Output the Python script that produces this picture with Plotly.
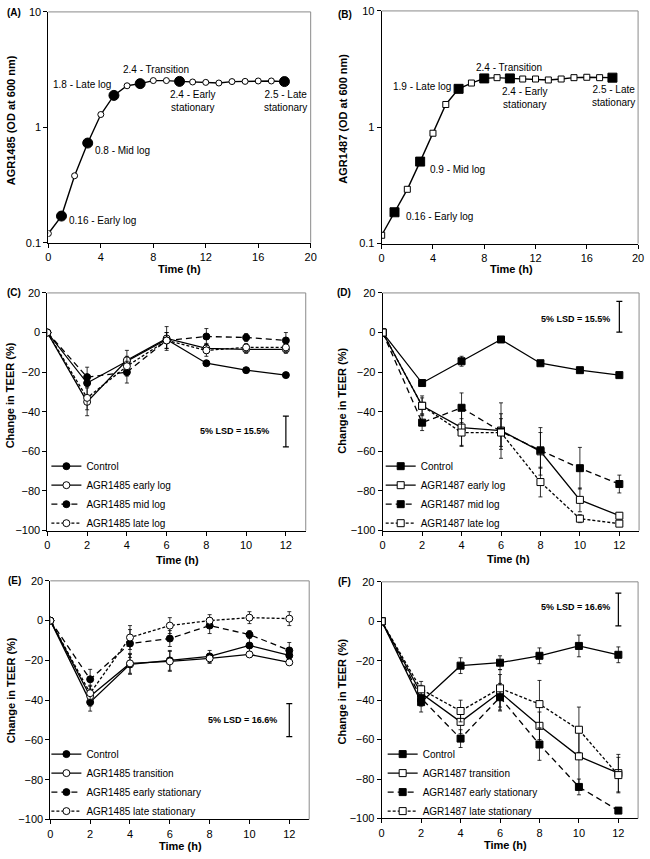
import plotly.graph_objects as go
from plotly.subplots import make_subplots

W, H = 650, 859
FONT = "Liberation Sans, Arial, sans-serif"

# ---------------- Data ----------------
growth_time = list(range(0, 19))
agr1485_od = [0.12, 0.17, 0.38, 0.73, 1.29, 1.89, 2.29, 2.39, 2.54, 2.54, 2.50, 2.47, 2.45, 2.42, 2.49, 2.50, 2.52, 2.52, 2.49]
agr1485_sampled = [1, 3, 5, 7, 10, 18]
agr1487_od = [0.118, 0.186, 0.293, 0.507, 0.889, 1.57, 2.14, 2.40, 2.63, 2.67, 2.63, 2.60, 2.60, 2.55, 2.60, 2.67, 2.69, 2.67, 2.67]
agr1487_sampled = [1, 3, 6, 8, 10, 18]

teer_time = [0, 2, 4, 6, 8, 10, 12]

C_control = [0, -25.5, -14.5, -3.5, -15.5, -19, -21.5]
C_control_err = [0, 1, 2, 1, 1, 1, 1]
C_early = [0, -35, -14, -3, -8, -8.5, -8.5]
C_early_err = [0, 7, 5, 6, 2.5, 2, 2]
C_mid = [0, -22.5, -20, -4, -2, -2.5, -4]
C_mid_err = [0, 5, 5.5, 4, 4, 2, 4]
C_late = [0, -33, -17, -4, -9, -7.5, -7.5]
C_late_err = [0, 6, 5, 4, 3, 2, 2]

D_control = [0, -25.5, -14.5, -3.5, -15.5, -19, -21.5]
D_control_err = [0, 1, 2.5, 1, 1, 1, 1]
D_early = [0, -37, -48, -49.5, -60, -84.5, -92.5]
D_early_err = [0, 5, 9, 14, 12, 6, 1.5]
D_mid = [0, -45.5, -38, -50, -59.5, -68.5, -76.5]
D_mid_err = [0, 4, 7.5, 9, 9, 10.5, 4.5]
D_late = [0, -37, -50.5, -50.5, -75.5, -94, -96.5]
D_late_err = [0, 4, 7, 7, 7.5, 2, 1]

E_control = [0, -41, -22, -20, -18, -12.5, -17.5]
E_control_err = [0, 4.5, 5, 5, 3, 5, 4]
E_trans = [0, -38, -21.5, -20.5, -19, -17, -21]
E_trans_err = [0, 5, 5, 5, 2.5, 1.5, 1.5]
E_early = [0, -29.5, -11.5, -9, -2.5, -7, -15]
E_early_err = [0, 5, 7, 4, 4, 2, 4]
E_late = [0, -36.5, -8.5, -2.5, 0, 1.5, 1]
E_late_err = [0, 4, 6, 4, 3, 3, 3.5]

F_control = [0, -41, -22.5, -21, -17.5, -12.5, -17]
F_control_err = [0, 5, 4, 3.5, 4, 5.5, 4]
F_trans = [0, -36.5, -51, -36, -53, -68.5, -77]
F_trans_err = [0, 4, 6, 9, 7, 14, 9.5]
F_early = [0, -39, -59.5, -38.5, -62.5, -84, -96]
F_early_err = [0, 4, 4.5, 7, 8, 4, 1]
F_late = [0, -34.5, -45.5, -34, -42, -55, -78]
F_late_err = [0, 4, 5.5, 9.5, 12, 11.5, 9]

lsd_C = 15.5
lsd_D = 15.5
lsd_E = 16.6
lsd_F = 16.6
lsd_x = 12
lsd_center = {"C": -50, "D": 8, "E": -50, "F": 6}

labels_log_1485 = ["Control", "AGR1485 early log", "AGR1485 mid log", "AGR1485 late log"]
labels_log_1487 = ["Control", "AGR1487 early log", "AGR1487 mid log", "AGR1487 late log"]
labels_stat_1485 = ["Control", "AGR1485 transition", "AGR1485 early stationary", "AGR1485 late stationary"]
labels_stat_1487 = ["Control", "AGR1487 transition", "AGR1487 early stationary", "AGR1487 late stationary"]

# ---------------- Figure ----------------
fig = make_subplots(rows=3, cols=2)

def px_x(p):
    return p / W

def px_y(p):
    return 1 - p / H

domains = {
    1: ((46, 312), (6, 240)),
    2: ((384, 644), (5, 241)),
    3: ((45, 307), (291, 532)),
    4: ((385, 645), (291, 532)),
    5: ((48, 310.5), (583, 825)),
    6: ((384, 644), (584, 824)),
}

def axname(i, a):
    return f"{a}axis" if i == 1 else f"{a}axis{i}"

tickfont = dict(family=FONT, size=11, color="black")
for i, ((x0, x1), (y0, y1)) in domains.items():
    fig.layout[axname(i, "x")].update(domain=[px_x(x0), px_x(x1)])
    fig.layout[axname(i, "y")].update(domain=[px_y(y1), px_y(y0)])
    for a in ("x", "y"):
        fig.layout[axname(i, a)].update(
            showline=True, linecolor="black", linewidth=1, showgrid=False, zeroline=False,
            ticks="outside", ticklen=4, tickcolor="black", tickwidth=1, tickfont=tickfont,
        )
    xr = f"x{'' if i == 1 else i} domain"
    yr = f"y{'' if i == 1 else i} domain"
    fig.add_shape(type="line", xref=xr, yref=yr, x0=0, x1=1, y0=1, y1=1, line=dict(color="#8a8a8a", width=1))
    fig.add_shape(type="line", xref=xr, yref=yr, x0=1, x1=1, y0=0, y1=1, line=dict(color="#8a8a8a", width=1))

for i in (1, 2):
    fig.layout[axname(i, "x")].update(range=[0, 20], tickvals=[0, 4, 8, 12, 16, 20])
    fig.layout[axname(i, "y")].update(type="log", range=[-1, 1], tickvals=[0.1, 1, 10], ticktext=["0.1", "1", "10"])
for i in (3, 4, 5, 6):
    fig.layout[axname(i, "x")].update(range=[0, 13], tickvals=[0, 2, 4, 6, 8, 10, 12])
    fig.layout[axname(i, "y")].update(range=[-100, 20], tickvals=[20, 0, -20, -40, -60, -80, -100])

def growth_trace(od, sampled, symbol, big, small):
    colors = ["black" if t in sampled else "white" for t in growth_time]
    sizes = [big if t in sampled else small for t in growth_time]
    return go.Scatter(
        x=growth_time, y=od, mode="lines+markers", showlegend=False,
        line=dict(color="black", width=1.4),
        marker=dict(symbol=symbol, color=colors, size=sizes, opacity=1, line=dict(color="black", width=1)),
    )

fig.add_trace(growth_trace(agr1485_od, agr1485_sampled, "circle", 10, 6), row=1, col=1)
fig.add_trace(growth_trace(agr1487_od, agr1487_sampled, "square", 9, 6), row=1, col=2)

styles = [
    ("solid", "black"),
    ("solid", "white"),
    ("6px,4px", "black"),
    ("3px,2px", "white"),
]

panels = [
    (2, 1, "circle", [(C_control, C_control_err), (C_early, C_early_err), (C_mid, C_mid_err), (C_late, C_late_err)], labels_log_1485, "legend"),
    (2, 2, "square", [(D_control, D_control_err), (D_early, D_early_err), (D_mid, D_mid_err), (D_late, D_late_err)], labels_log_1487, "legend2"),
    (3, 1, "circle", [(E_control, E_control_err), (E_trans, E_trans_err), (E_early, E_early_err), (E_late, E_late_err)], labels_stat_1485, "legend3"),
    (3, 2, "square", [(F_control, F_control_err), (F_trans, F_trans_err), (F_early, F_early_err), (F_late, F_late_err)], labels_stat_1487, "legend4"),
]

for row, col, sym, series, names, leg in panels:
    for (vals, errs), name, (dash, fill) in zip(series, names, styles):
        fig.add_trace(go.Scatter(
            x=teer_time, y=vals, name=name, mode="lines+markers", legend=leg,
            line=dict(color="black", width=1.3, dash=dash),
            marker=dict(symbol=sym, size=7, color=fill, line=dict(color="black", width=1)),
            error_y=dict(type="data", array=errs, color="black", thickness=0.8, width=2),
        ), row=row, col=col)

for (row, col, key, lsd) in [(2, 1, "C", lsd_C), (2, 2, "D", lsd_D), (3, 1, "E", lsd_E), (3, 2, "F", lsd_F)]:
    fig.add_trace(go.Scatter(
        x=[lsd_x], y=[lsd_center[key]], mode="markers", showlegend=False,
        marker=dict(size=1, color="rgba(0,0,0,0)"),
        error_y=dict(type="data", array=[lsd / 2], color="black", thickness=1.2, width=3),
    ), row=row, col=col)

leg_common = dict(bgcolor="rgba(0,0,0,0)", borderwidth=0, font=dict(family=FONT, size=10, color="black"),
                  xanchor="left", yanchor="top", itemwidth=30, tracegroupgap=0)
fig.update_layout(
    legend=dict(x=px_x(44), y=px_y(452), **leg_common),
    legend2=dict(x=px_x(383), y=px_y(452), **leg_common),
    legend3=dict(x=px_x(44), y=px_y(744), **leg_common),
    legend4=dict(x=px_x(385), y=px_y(744), **leg_common),
)

ann = []
def A(text, x, y, xref="paper", yref="paper", size=10, bold=False, xanchor="center", yanchor="middle", angle=0, align="center"):
    t = f"<b>{text}</b>" if bold else text
    ann.append(dict(text=t, x=x, y=y, xref=xref, yref=yref, showarrow=False, xanchor=xanchor, yanchor=yanchor,
                    textangle=angle, align=align, font=dict(family=FONT, size=size, color="black")))

for lab, x, y in [("(A)", 2, 7), ("(B)", 338, 9), ("(C)", 2, 291), ("(D)", 337, 291), ("(E)", 3, 583), ("(F)", 338, 584)]:
    A(lab, px_x(x), px_y(y), size=10, bold=True, xanchor="left")

for x, y in [(179, 267), (516, 267), (177, 562), (513, 561), (180, 852), (510, 851)]:
    A("Time (h)", px_x(x), px_y(y), size=11, bold=True)
A("AGR1485 (OD at 600 nm)", px_x(8), px_y(116), size=11, bold=True, angle=-90)
A("AGR1487 (OD at 600 nm)", px_x(345), px_y(114), size=11, bold=True, angle=-90)
for x, y in [(8, 395), (344, 400), (8, 694), (344, 695)]:
    A("Change in TEER (%)", px_x(x), px_y(y), size=11, bold=True, angle=-90)

A("0.16 - Early log", 1.43, -0.812, "x", "y", xanchor="left")
A("0.8 - Mid log", 3.38, -0.205, "x", "y", xanchor="left")
A("1.8 - Late log", 4.96, 0.368, "x", "y", xanchor="right")
A("2.4 - Transition", 8.2, 0.504, "x", "y")
A("2.4 - Early<br>stationary", 11.0, 0.231, "x", "y")
A("2.5 - Late<br>stationary", 18.1, 0.231, "x", "y")

A("0.16 - Early log", 1.77, -0.763, "x2", "y2", xanchor="left")
A("0.9 - Mid log", 3.6, -0.364, "x2", "y2", xanchor="left")
A("1.9 - Late log", 5.54, 0.347, "x2", "y2", xanchor="right")
A("2.4 - Transition", 9.9, 0.517, "x2", "y2")
A("2.4 - Early<br>stationary", 11.2, 0.25, "x2", "y2")
A("2.5 - Late<br>stationary", 18.1, 0.267, "x2", "y2")

A(f"5% LSD = {lsd_C}%", 11.25, -49.7, "x3", "y3", size=9, bold=True, xanchor="right")
A(f"5% LSD = {lsd_D}%", 11.65, 6.6, "x4", "y4", size=9, bold=True, xanchor="right")
A(f"5% LSD = {lsd_E}%", 11.47, -49.9, "x5", "y5", size=9, bold=True, xanchor="right")
A(f"5% LSD = {lsd_F}%", 11.68, 7.0, "x6", "y6", size=9, bold=True, xanchor="right")

fig.update_layout(
    annotations=ann,
    width=W, height=H,
    margin=dict(l=0, r=0, t=0, b=0),
    paper_bgcolor="white", plot_bgcolor="white",
    font=dict(family=FONT, size=11, color="black"),
)

fig.write_html("out.html", config={"displayModeBar": False},
               post_script="document.body.style.margin='0px';document.body.style.overflow='hidden';")
